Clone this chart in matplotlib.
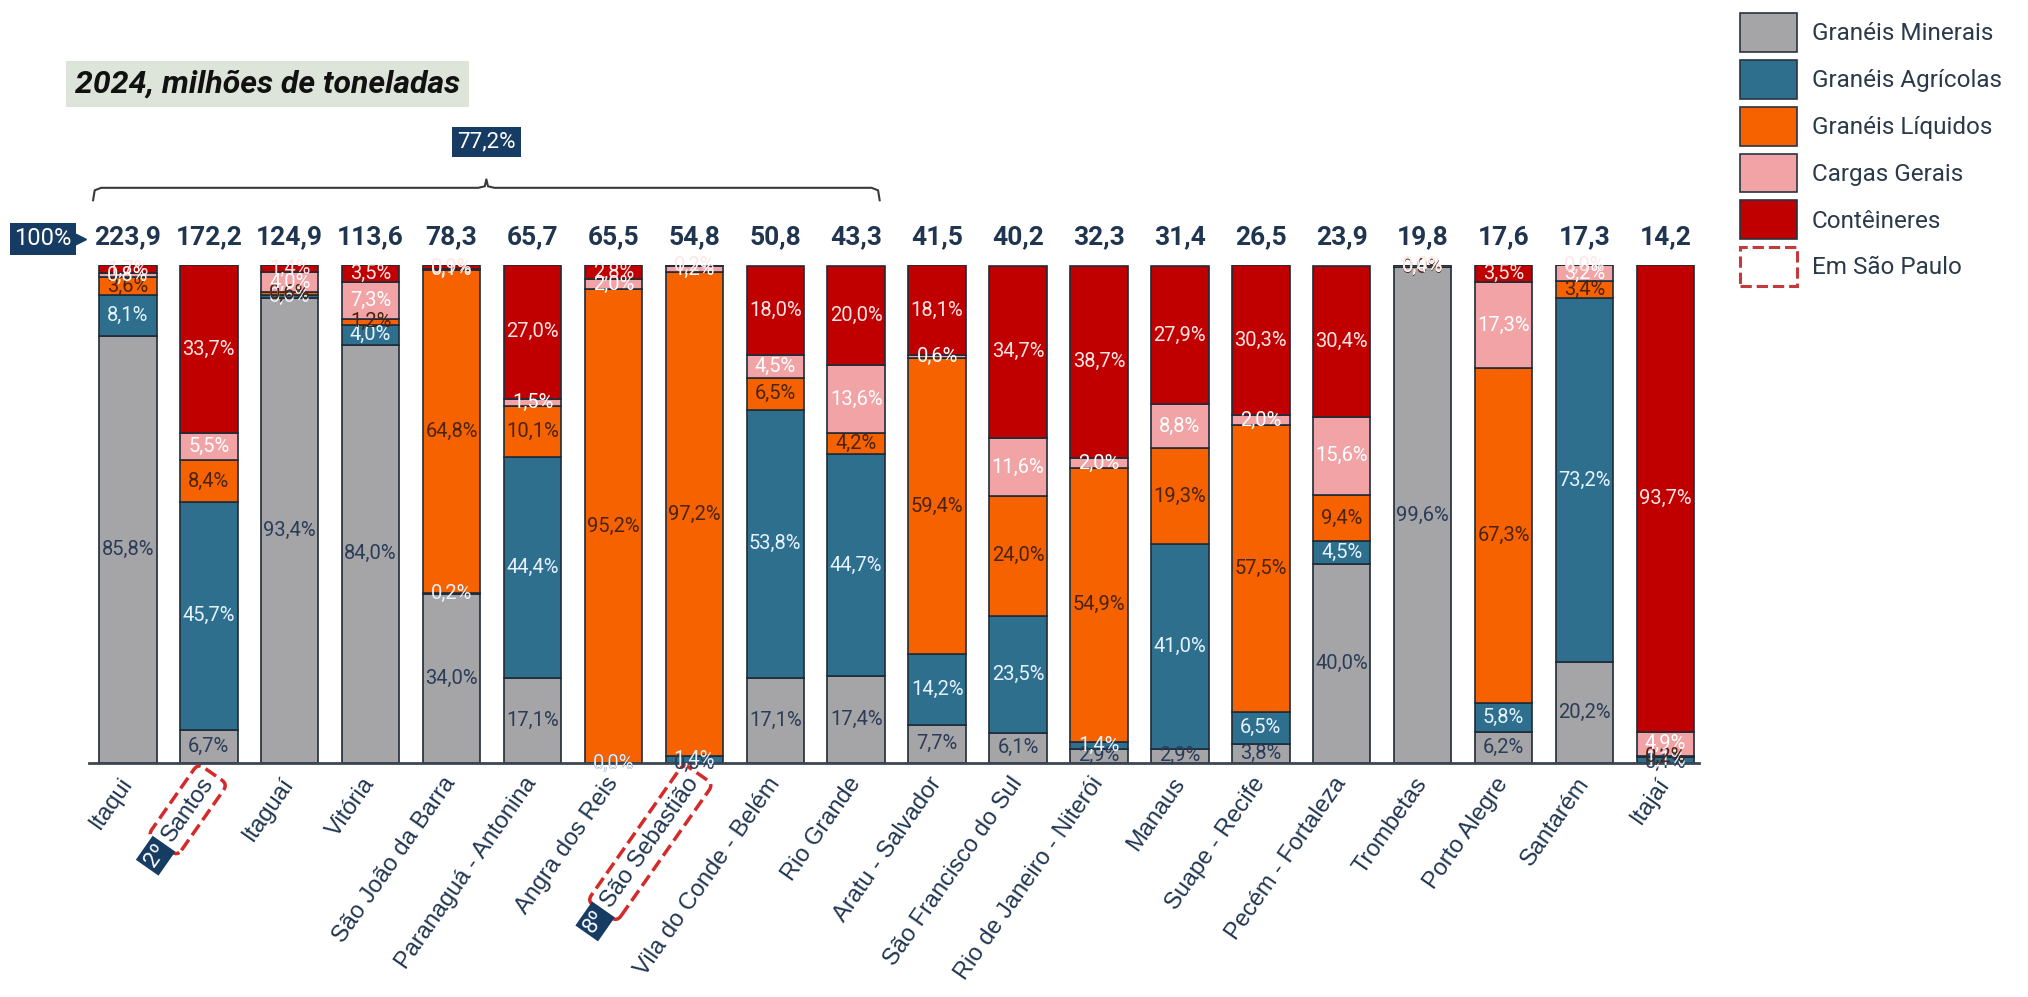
import numpy as np
import matplotlib
matplotlib.use('Agg')
import matplotlib.pyplot as plt
from matplotlib.patches import Patch
from matplotlib.transforms import IdentityTransform

portos = ['Itaqui', 'Santos', 'Itaguaí', 'Vitória', 'São João da Barra', 'Paranaguá - Antonina',
          'Angra dos Reis', 'São Sebastião', 'Vila do Conde - Belém', 'Rio Grande', 'Aratu - Salvador',
          'São Francisco do Sul', 'Rio de Janeiro - Niterói', 'Manaus', 'Suape - Recife',
          'Pecém - Fortaleza', 'Trombetas', 'Porto Alegre', 'Santarém', 'Itajaí']
totais = [223.9, 172.2, 124.9, 113.6, 78.3, 65.7, 65.5, 54.8, 50.8, 43.3,
          41.5, 40.2, 32.3, 31.4, 26.5, 23.9, 19.8, 17.6, 17.3, 14.2]

# participacao de cada tipo de carga (%)
minerais = [85.8, 6.7, 93.4, 84.0, 34.0, 17.1, 0.0, 0.0, 17.1, 17.4, 7.7, 6.1, 2.9, 2.9, 3.8, 40.0, 99.6, 6.2, 20.2, 0.1]
agricolas = [8.1, 45.7, 0.6, 4.0, 0.2, 44.4, 0.0, 1.4, 53.8, 44.7, 14.2, 23.5, 1.4, 41.0, 6.5, 4.5, 0.0, 5.8, 73.2, 1.1]
liquidos = [3.6, 8.4, 0.6, 1.2, 64.8, 10.1, 95.2, 97.2, 6.5, 4.2, 59.4, 24.0, 54.9, 19.3, 57.5, 9.4, 0.0, 67.3, 3.4, 0.2]
cargas = [0.8, 5.5, 4.0, 7.3, 0.1, 1.5, 2.0, 1.2, 4.5, 13.6, 0.6, 11.6, 2.0, 8.8, 2.0, 15.6, 0.4, 17.3, 3.2, 4.9]
conteineres = [1.7, 33.7, 1.4, 3.5, 0.9, 27.0, 2.8, 0.2, 18.0, 20.0, 18.1, 34.7, 38.7, 27.9, 30.3, 30.4, 0.0, 3.5, 0.0, 93.7]

nomes = ['Granéis Minerais', 'Granéis Agrícolas', 'Granéis Líquidos', 'Cargas Gerais', 'Contêineres']
cores = ['#a5a5a7', '#2e6f8e', '#f76200', '#f2a3a5', '#c00000']
cores_txt = ['#2b3c58', '#e6f3ff', '#4a2410', '#ffffff', '#ffe6e6']
destaque = {'Santos': '2º', 'São Sebastião': '8º'}

navy = '#163c63'
txt = '#1f3550'
ROT = 55

fig = plt.figure(figsize=(20.28, 9.97), dpi=100)
ax = fig.add_axes([0.0439, 0.2347, 0.7941, 0.4995])

x = np.arange(len(portos))
base = np.zeros(len(portos))
for vals, cor, ct in zip([minerais, agricolas, liquidos, cargas, conteineres], cores, cores_txt):
    vals = np.array(vals)
    ax.bar(x, vals, 0.71, bottom=base, color=cor, edgecolor='#1f2b38', linewidth=1.2)
    for xi, v, b in zip(x, vals, base):
        ax.text(xi, b + v / 2, f'{v:.1f}%'.replace('.', ','), ha='center', va='center',
                fontsize=14.5, color=ct, family='Roboto')
    base += vals

for xi, t in zip(x, totais):
    ax.text(xi, 105.6, f'{t:.1f}'.replace('.', ','), ha='center', va='center', fontsize=19,
            fontweight='bold', color=txt, family='Roboto', clip_on=False)

ax.set_xlim(-0.48, 19.42)
ax.set_ylim(0, 100)
ax.set_yticks([])
for s in ['left', 'right', 'top']:
    ax.spines[s].set_visible(False)
ax.spines['bottom'].set_color('#3b4652')
ax.spines['bottom'].set_linewidth(2)
ax.set_xticks(x, portos, rotation=ROT, ha='right', va='center', rotation_mode='anchor',
              fontsize=17, color=txt, family='Liberation Sans')
ax.tick_params(axis='x', length=0, pad=12)

# chave sobre os 10 maiores
x0, x1 = x[0] - 0.43, x[9] + 0.29
xc = (x0 + x1) / 2
bx = [x0, x0 + 0.02, x0 + 0.1, xc - 0.1, xc - 0.02, xc, xc + 0.02, xc + 0.1, x1 - 0.1, x1 - 0.02, x1]
by = [113.0, 115.0, 115.5, 115.5, 115.8, 117.2, 115.8, 115.5, 115.5, 115.0, 113.0]
ax.plot(bx, by, color='#3a3a3a', lw=1.5, clip_on=False)
ax.text(xc, 124.7, '77,2%', ha='center', va='center', fontsize=16, color='white', family='Roboto',
        bbox=dict(boxstyle='square,pad=0.22', fc=navy, ec='none'), clip_on=False)

# caixa 100%
fig.text(0.0212, 0.7603, '100%', ha='center', va='center', fontsize=17, color='white', family='Roboto',
         bbox=dict(boxstyle='square,pad=0.18', fc=navy, ec='none'))
fig.lines.append(plt.Line2D([0.0385], [0.7603], marker='>', markersize=11, color=navy,
                            transform=fig.transFigure))

fig.text(0.132, 0.9157, '2024, milhões de toneladas', ha='center', va='center', fontsize=23,
         fontweight='bold', style='italic', family='Roboto', color='#111111',
         bbox=dict(boxstyle='square,pad=0.28', fc='#dde4da', ec='none'))

handles = [Patch(facecolor=c, edgecolor='#2a3440', linewidth=1.2) for c in cores]
handles.append(Patch(facecolor='white', edgecolor='#c43a3a', linestyle='--', linewidth=2.2))
leg = fig.legend(handles, nomes + ['Em São Paulo'], loc='upper left', bbox_to_anchor=(0.852, 0.999),
                 frameon=False, handlelength=2.35, handleheight=2.08,
                 labelspacing=0.33, borderpad=0, handletextpad=0.6, prop={'family': 'Roboto', 'size': 17.5})
for t in leg.get_texts():
    t.set_color('#2b3a4a')

# destaque dos portos de Sao Paulo
fig.canvas.draw()
r = fig.canvas.get_renderer()
ang = np.deg2rad(ROT)
for lbl in ax.get_xticklabels():
    nome = lbl.get_text()
    if nome in destaque:
        lbl.set_bbox(dict(boxstyle='round,pad=0.3', fc='none', ec='#d42a2a', ls='--', lw=2.5))
        tmp = fig.text(0, 0, nome, fontsize=17, family='Liberation Sans')
        L = tmp.get_window_extent(r).width
        tmp.remove()
        px, py = lbl.get_transform().transform(lbl.get_position())
        d = L + 8
        fig.text(px - d * np.cos(ang), py - d * np.sin(ang), destaque[nome], rotation=ROT,
                 rotation_mode='anchor', ha='right', va='center', fontsize=16, color='white',
                 family='Roboto', transform=IdentityTransform(),
                 bbox=dict(boxstyle='square,pad=0.15', fc=navy, ec='none'))

fig.savefig('out.png', dpi=100, facecolor='white')
